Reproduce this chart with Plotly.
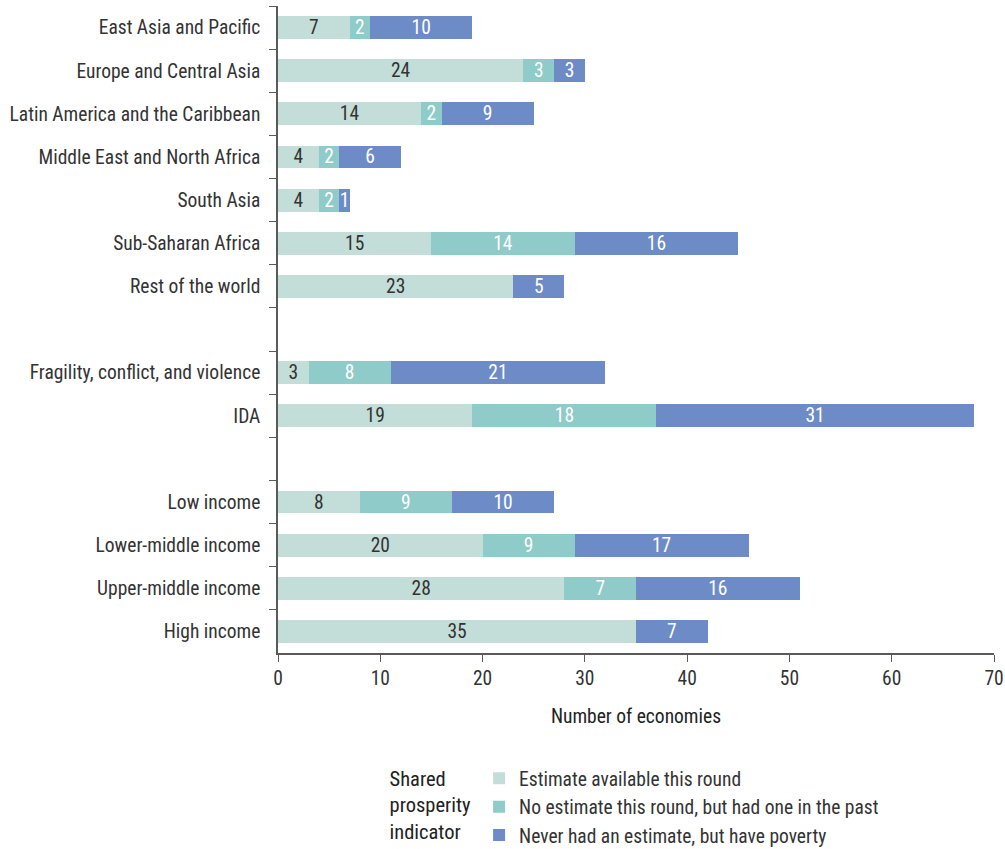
import plotly.graph_objects as go

categories = [
    "East Asia and Pacific",
    "Europe and Central Asia",
    "Latin America and the Caribbean",
    "Middle East and North Africa",
    "South Asia",
    "Sub-Saharan Africa",
    "Rest of the world",
    " ",
    "Fragility, conflict, and violence",
    "IDA",
    "  ",
    "Low income",
    "Lower-middle income",
    "Upper-middle income",
    "High income",
]

estimate_available = [7, 24, 14, 4, 4, 15, 23, None, 3, 19, None, 8, 20, 28, 35]
had_one_in_past = [2, 3, 2, 2, 2, 14, 0, None, 8, 18, None, 9, 9, 7, 0]
never_had = [10, 3, 9, 6, 1, 16, 5, None, 21, 31, None, 10, 17, 16, 7]

series_names = [
    "Estimate available this round",
    "No estimate this round, but had one in the past",
    "Never had an estimate, but have poverty",
]
colors = ["#c3ded9", "#8fcbc8", "#6d8cc7"]
text_colors = ["#333333", "#ffffff", "#ffffff"]

FONT = "Liberation Sans Narrow, Roboto Condensed, Roboto, sans-serif"
FS = 19.5

fig = go.Figure()
for name, vals, col, tcol in zip(series_names, [estimate_available, had_one_in_past, never_had], colors, text_colors):
    fig.add_trace(go.Bar(
        y=categories,
        x=vals,
        name=name,
        orientation="h",
        marker=dict(color=col, line=dict(width=0)),
        text=[str(v) if v else "" for v in vals],
        textposition="inside",
        insidetextanchor="middle",
        textangle=0,
        textfont=dict(color=tcol, size=FS, family=FONT),
        hoverinfo="x+y+name",
    ))

fig.update_layout(
    barmode="stack",
    bargap=0.47,
    width=1005,
    height=849,
    margin=dict(l=278, r=11, t=6, b=196, autoexpand=False),
    paper_bgcolor="white",
    plot_bgcolor="white",
    font=dict(family=FONT, size=FS, color="#333333"),
    uniformtext=dict(minsize=FS, mode="show"),
    xaxis=dict(
        range=[0, 70],
        dtick=10,
        showgrid=False,
        zeroline=False,
        showline=True,
        linecolor="#5a5a5a",
        linewidth=1.5,
        ticks="outside",
        ticklen=7,
        tickcolor="#5a5a5a",
        tickfont=dict(size=FS, color="#333333"),
        title=dict(text="Number of economies", font=dict(size=FS, color="#222222"), standoff=20),
        automargin=False,
    ),
    yaxis=dict(
        categoryorder="array",
        categoryarray=categories,
        autorange="reversed",
        showgrid=False,
        showline=True,
        linecolor="#5a5a5a",
        linewidth=1.5,
        ticks="outside",
        tickson="boundaries",
        ticklen=7,
        tickcolor="#5a5a5a",
        tickfont=dict(size=FS, color="#333333"),
        ticklabelstandoff=12,
        automargin=False,
    ),
    legend=dict(
        orientation="v",
        x=0.153,
        xanchor="left",
        y=-0.164,
        yanchor="top",
        title=dict(text="Shared<br>prosperity<br>indicator", side="left", font=dict(size=20.5, color="#222222")),
        font=dict(size=FS, color="#333333"),
        traceorder="normal",
        itemsizing="constant",
        tracegroupgap=0,
    ),
    showlegend=True,
)

fig.write_html(
    "out.html",
    config={"displayModeBar": False},
    post_script="document.body.style.margin='0';document.body.style.padding='0';",
)
